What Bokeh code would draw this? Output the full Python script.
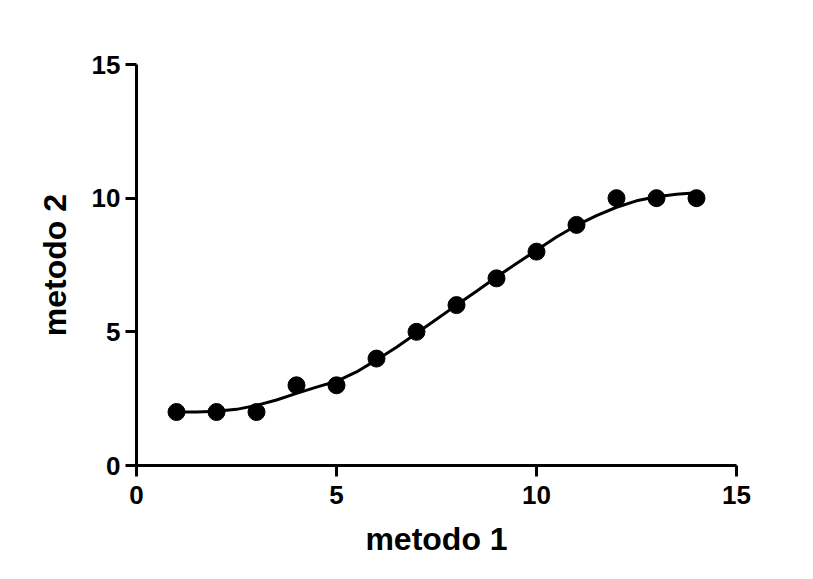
from bokeh.plotting import figure
from bokeh.models import Range1d, FixedTicker
from bokeh.embed import file_html
from bokeh.resources import INLINE

# Data points (metodo 1 vs metodo 2)
x_points = [1, 2, 3, 4, 5, 6, 7, 8, 9, 10, 11, 12, 13, 14]
y_points = [2, 2, 2, 3, 3, 4, 5, 6, 7, 8, 9, 10, 10, 10]

# Fitted sigmoidal curve
x_curve = [1, 1.5, 2, 2.5, 3, 3.5, 4, 4.5, 5, 5.5, 6, 6.5, 7, 7.5, 8, 8.5,
           9, 9.5, 10, 10.5, 11, 11.5, 12, 12.5, 13, 13.5, 14]
y_curve = [2.0, 2.0, 2.03, 2.1, 2.25, 2.45, 2.7, 2.93, 3.15, 3.5, 3.95, 4.42,
           4.95, 5.47, 6.0, 6.52, 7.05, 7.56, 8.05, 8.55, 8.98, 9.35, 9.66,
           9.9, 10.05, 10.15, 10.2]

ticks = [0, 5, 10, 15]
x_label = "metodo 1"
y_label = "metodo 2"

p = figure(width=795, height=561, output_backend="svg", toolbar_location=None,
           x_range=Range1d(0, 15), y_range=Range1d(0, 15),
           min_border_left=136, min_border_right=59, min_border_top=64,
           min_border_bottom=96)
p.outline_line_color = None
p.grid.visible = False
p.background_fill_color = "white"
p.border_fill_color = "white"

p.line(x_curve, y_curve, line_color="black", line_width=3)
p.scatter(x_points, y_points, size=17, fill_color="black", line_color="black")

for ax in (p.xaxis[0], p.yaxis[0]):
    ax.ticker = FixedTicker(ticks=ticks)
    ax.minor_tick_line_color = None
    ax.axis_line_width = 3
    ax.axis_line_color = "black"
    ax.major_tick_line_width = 3
    ax.major_tick_line_color = "black"
    ax.major_tick_in = 0
    ax.major_tick_out = 11
    ax.major_label_text_font = "Liberation Sans"
    ax.major_label_text_font_style = "bold"
    ax.major_label_text_font_size = "26px"
    ax.major_label_text_color = "black"
    ax.axis_label_text_font = "Liberation Sans"
    ax.axis_label_text_font_style = "bold"
    ax.axis_label_text_font_size = "32px"
    ax.axis_label_text_color = "black"

p.xaxis.axis_label = x_label
p.yaxis.axis_label = y_label
p.xaxis.major_label_standoff = 9
p.yaxis.major_label_standoff = 5
p.xaxis.axis_label_standoff = 14
p.yaxis.axis_label_standoff = 16

open("out.html", "w").write(file_html(p, INLINE))
